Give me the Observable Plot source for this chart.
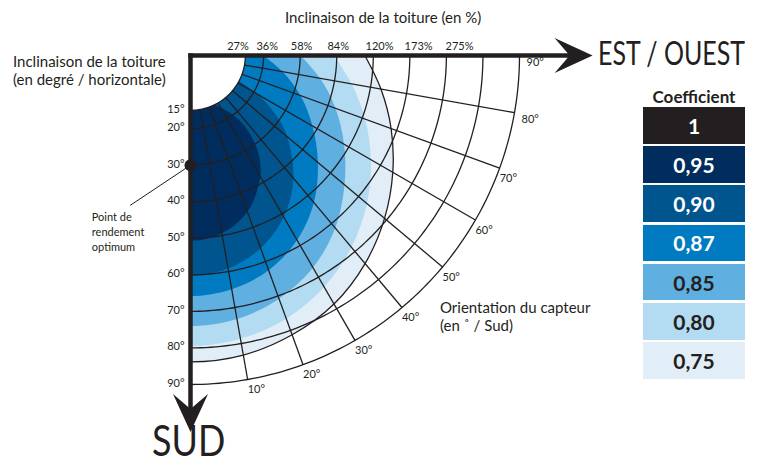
<!DOCTYPE html>
<html><head><meta charset="utf-8">
<script src="https://cdn.jsdelivr.net/npm/d3@7"></script>
<script src="https://cdn.jsdelivr.net/npm/@observablehq/plot@0.6"></script>
<style>
body{margin:0;background:#fff;}
#wrap{position:relative;width:758px;height:469px;overflow:hidden;font-family:Lato,"Open Sans",sans-serif;color:#231f20;}
#wrap svg{position:absolute;left:0;top:0;}
.lbl{position:absolute;white-space:nowrap;line-height:1;}
.box{position:absolute;display:flex;align-items:center;justify-content:center;font-weight:bold;font-size:21px;}
</style></head><body><div id="wrap"></div>
<script>
// ---- data ----
const TILT_TICKS = [15, 20, 30, 40, 50, 60, 70, 80, 90];            // inclinaison (°)
const SLOPE_LABELS = ["27%", "36%", "58%", "84%", "120%", "173%", "275%"]; // for 15..70°
const SLOPE_LABEL_AT = [13, 21, 30.4, 40.4, 51.7, 62.4, 73.6];      // where each % label sits (tilt °)
const ORIENT_TICKS = [10, 20, 30, 40, 50, 60, 70, 80, 90];          // orientation (° / Sud)
const COEFFS = ["1", "0,95", "0,90", "0,87", "0,85", "0,80", "0,75"];
const COLORS = ["#231f20", "#002d5e", "#00558f", "#007bc1", "#5fafe1", "#b3dbf1", "#e1eef8"];
// zone outer boundaries: [orientation °, tilt °]
const ZONE_095 = [[0, 50.7], [10, 49.4], [20, 45.5], [30, 38.2], [35, 32.2], [37.5, 25], [35, 19.4], [30, 16.4], [24, 14.5]];
const ZONE_090 = [[0, 60.3], [10, 59.2], [20, 56.1], [30, 51], [40, 43.8], [50, 34.5], [55, 28.7], [60, 21.1], [62, 15]];
const ZONE_087 = [[0, 65.8], [10, 64.9], [20, 62.5], [30, 58.3], [40, 52.5], [50, 45.5], [60, 38.5], [70, 32], [80, 25.6], [90, 19.9]];
const ZONE_085 = [[0, 74], [10, 73.2], [20, 70.8], [30, 67], [40, 61.6], [50, 55], [60, 48.5], [70, 42.2], [80, 36], [90, 30.1]];
const ZONE_080 = [[0, 79.5], [10, 78.7], [20, 76.6], [30, 73.1], [40, 68.5], [50, 63], [60, 57], [70, 50.8], [80, 44.8], [90, 39.2]];
const ZONE_075 = [[0, 83.8], [10, 83.2], [20, 81.3], [30, 78.5], [40, 74.3], [50, 69.3], [60, 63.9], [70, 58.4], [80, 52.9], [90, 47.7]];
const OPTIMUM = {orientation: 0, tilt: 30};
const NOTE = {x: -16.5, y: 41, tx: -27, ty: 42.2, text: "Point de\nrendement\noptimum"};
const ARROW_TIPS = {east: 110, south: 103};

// ---- helpers ----
const rad = a => a * Math.PI / 180;
const XY = {x: d => d.t * Math.sin(rad(d.o)), y: d => d.t * Math.cos(rad(d.o))};
const mirror = pts => [...pts.slice().reverse().map(([o, t]) => ({o: -o, t})), ...pts.slice(1).map(([o, t]) => ({o, t}))];
const ink = "#231f20";

const zones = [ZONE_075, ZONE_080, ZONE_085, ZONE_087, ZONE_090, ZONE_095];
const zoneColors = [COLORS[6], COLORS[5], COLORS[4], COLORS[3], COLORS[2], COLORS[1]];

const arcRows = [];
for (const t of TILT_TICKS) for (const o of d3.range(0, 90.5, 1)) arcRows.push({o, t});
const disk = d3.range(-90, 90.5, 2).map(o => ({o, t: TILT_TICKS[0]}));

const chevron = {draw(ctx) { ctx.moveTo(0, 0); ctx.lineTo(-38, -17.5); ctx.lineTo(-23, 0); ctx.lineTo(-38, 17.5); ctx.closePath(); }};

const plot = Plot.plot({
  width: 758, height: 469,
  marginLeft: 190, marginTop: 55, marginRight: 239, marginBottom: 85,
  x: {domain: [0, 90], axis: null},
  y: {domain: [0, 90], reverse: true, axis: null},
  style: {fontFamily: "Lato, 'Open Sans', sans-serif", fontSize: "11px", color: ink, background: "white"},
  marks: [
    ...zones.map((z, i) => Plot.line(mirror(z), {...XY, fill: zoneColors[i], stroke: "none", curve: "catmull-rom", clip: "frame"})),
    Plot.line(disk, {...XY, fill: "white", stroke: "none", clip: "frame"}),
    Plot.line(arcRows, {...XY, z: "t", stroke: ink, strokeWidth: 1.3}),
    Plot.link(ORIENT_TICKS.filter(o => o < 90), {
      x1: o => TILT_TICKS[0] * Math.sin(rad(o)), y1: o => TILT_TICKS[0] * Math.cos(rad(o)),
      x2: o => 90 * Math.sin(rad(o)), y2: o => 90 * Math.cos(rad(o)), stroke: ink, strokeWidth: 1.3}),
    Plot.line(mirror(ZONE_075), {...XY, stroke: ink, strokeWidth: 1.3, curve: "catmull-rom", clip: "frame"}),
    // axes
    Plot.link([0], {x1: () => 0, y1: () => 0, x2: () => ARROW_TIPS.east - 6, y2: () => 0, stroke: ink, strokeWidth: 4.5, strokeLinecap: "square"}),
    Plot.link([0], {x1: () => 0, y1: () => 0, x2: () => 0, y2: () => ARROW_TIPS.south - 6, stroke: ink, strokeWidth: 4.5, strokeLinecap: "square"}),
    Plot.dot([0], {x: () => ARROW_TIPS.east, y: () => 0, symbol: chevron, fill: ink, stroke: "none"}),
    Plot.dot([0], {x: () => 0, y: () => ARROW_TIPS.south, symbol: chevron, fill: ink, stroke: "none", rotate: 90}),
    // tick labels
    Plot.text(TILT_TICKS, {x: () => 0, y: t => t, text: t => t + "°", textAnchor: "end", dx: -6, dy: -1, fontSize: 11}),
    Plot.text(SLOPE_LABELS, {x: (s, i) => SLOPE_LABEL_AT[i], y: () => 0, text: s => s, dy: -9, fontSize: 11}),
    Plot.text(ORIENT_TICKS.filter(o => o <= 70), {x: o => 90 * Math.sin(rad(o)), y: o => 90 * Math.cos(rad(o)), text: o => o + "°", textAnchor: "start", dy: 10, fontSize: 11}),
    Plot.text(ORIENT_TICKS.filter(o => o > 70), {x: o => 90 * Math.sin(rad(o)), y: o => 90 * Math.cos(rad(o)), text: o => o + "°", textAnchor: "start", dx: 7, dy: 7, fontSize: 11}),
    // optimum
    Plot.link([OPTIMUM], {x1: d => d.orientation, y1: d => d.tilt, x2: () => NOTE.x, y2: () => NOTE.y, stroke: ink, strokeWidth: 1}),
    Plot.dot([OPTIMUM], {x: d => d.orientation, y: d => d.tilt, r: 6, fill: ink, stroke: "none"}),
    Plot.text([NOTE], {x: d => d.tx, y: d => d.ty, text: d => d.text, textAnchor: "start", lineAnchor: "top", lineHeight: 1.4, fontSize: 11})
  ]
});

const wrap = document.getElementById("wrap");
wrap.appendChild(plot);

function label(text, left, top, size, extra = "") {
  const d = document.createElement("div");
  d.className = "lbl";
  d.textContent = text;
  d.style.cssText += `left:${left}px;top:${top}px;font-size:${size}px;${extra}`;
  wrap.appendChild(d);
  return d;
}
label("Inclinaison de la toiture (en %)", 285, 10, 15);
label("Inclinaison de la toiture", 13, 54, 15);
label("(en degré / horizontale)", 13, 72, 15);
label("EST / OUEST", 598, 37, 32, "transform:scaleX(0.78);transform-origin:left top;");
label("SUD", 152, 419, 42, "transform:scaleX(0.855);transform-origin:left top;");
label("Orientation du capteur", 440, 300, 15);
label("(en ˚ / Sud)", 440, 318, 15);
label("Coefficient", 643, 88, 17, "font-weight:bold;width:102px;text-align:center;");
COEFFS.forEach((c, i) => {
  const b = document.createElement("div");
  b.className = "box";
  b.textContent = c;
  b.style.cssText += `left:643px;top:${107 + i * 39.2}px;width:102px;height:36.5px;background:${COLORS[i]};color:${i < 4 ? "#fff" : "#231f20"};`;
  wrap.appendChild(b);
});
</script></body></html>
